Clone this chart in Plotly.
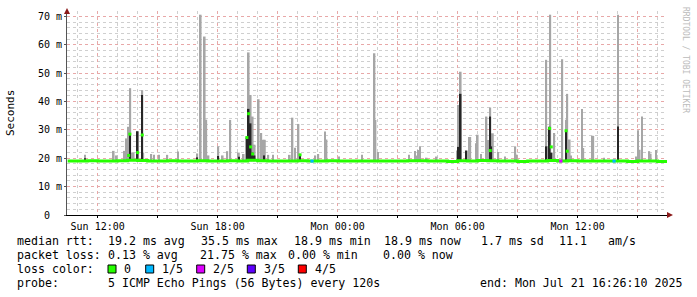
import plotly.graph_objects as go

# ---------------- data (time = hours since Sun 00:00) ----------------
x_range = [10.467, 40.467]

tick_hours = [12, 15, 18, 21, 24, 27, 30, 33, 36, 39]
tick_labels = ["Sun 12:00", "", "Sun 18:00", "", "Mon 00:00", "",
               "Mon 06:00", "", "Mon 12:00", ""]

y_ticks = [0, 10, 20, 30, 40, 50, 60, 70]
y_labels = ["0\u00a0\u00a0", "10 m", "20 m", "30 m", "40 m", "50 m", "60 m", "70 m"]

# outer smoke (max of the 5 pings), ms
spike_hour = [11.37, 12.80, 12.95, 13.36, 13.44, 13.53, 13.63, 13.72, 13.80, 14.00,
              14.23, 14.28, 14.68, 14.82, 15.07, 15.48, 16.02, 16.98, 17.15, 17.35,
              17.43, 17.54, 18.03, 18.25, 18.48, 18.63, 19.06, 19.30, 19.46, 19.55,
              19.65, 19.75, 19.85, 20.05, 20.18, 20.30, 20.36, 20.53, 20.77, 21.60,
              21.74, 21.87, 22.04, 22.12, 22.88, 23.03, 23.37, 23.44, 24.07, 25.22,
              25.84, 25.89, 26.02, 27.57, 27.87, 27.97, 28.04, 28.12, 28.45, 28.95,
              29.97, 30.03, 30.15, 30.44, 30.58, 30.63, 30.94, 31.00, 31.17, 31.44,
              31.52, 31.63, 31.76, 32.03, 32.37, 32.88, 32.95, 34.43, 34.48, 34.63,
              34.83, 35.23, 35.42, 35.48, 35.60, 35.67, 36.22, 36.28, 36.73, 36.78,
              37.32, 38.02, 38.92, 39.02, 39.10, 39.22, 39.58, 39.65, 39.92]
spike_max = [21.2, 22.6, 21.0, 22.6, 27.0, 31.1, 44.7, 22.0, 22.0, 29.5,
             44.0, 22.0, 21.5, 21.2, 21.2, 21.2, 22.4, 21.7, 70.6, 62.9,
             33.6, 21.0, 24.2, 21.0, 22.5, 33.5, 22.0, 21.5, 27.3, 57.3,
             42.3, 34.7, 24.8, 40.8, 28.9, 26.5, 26.5, 21.2, 21.2, 21.2,
             34.3, 23.7, 32.1, 21.2, 21.0, 21.5, 29.4, 26.6, 20.6, 21.2,
             57.0, 33.5, 22.2, 21.2, 22.6, 21.0, 22.9, 24.2, 20.2, 20.6,
             22.7, 38.8, 50.5, 22.7, 27.5, 27.5, 25.3, 28.3, 21.5, 34.7,
             26.4, 37.9, 28.8, 22.2, 20.6, 24.2, 21.3, 54.7, 24.2, 70.6,
             28.9, 54.9, 33.6, 42.7, 26.6, 21.0, 37.4, 23.6, 27.9, 27.9,
             20.2, 70.6, 20.6, 29.9, 23.0, 34.7, 22.5, 21.6, 22.9]

# inner (dark) smoke
dark_hour = [11.37, 13.61, 14.00, 14.23, 16.98, 18.03, 19.06, 19.46, 19.55, 19.65,
             19.75, 19.85, 20.33, 22.12, 30.03, 30.15, 30.44, 31.63, 31.68, 34.43,
             34.60, 34.70, 35.42, 38.02]
dark_top = [20.0, 28.8, 29.5, 42.3, 20.3, 20.8, 20.5, 27.3, 37.4, 32.3,
            22.0, 21.0, 21.0, 21.2, 24.0, 42.7, 22.7, 34.7, 24.2, 24.2,
            31.1, 22.0, 29.7, 31.2]

# elevated medians
med_hour = [13.55, 13.61, 14.00, 14.23, 19.46, 19.55, 19.65, 19.75, 22.12,
            31.63, 34.60, 34.68, 35.42, 35.48]
med_val = [21.0, 28.5, 22.0, 28.2, 27.3, 35.7, 24.0, 21.5, 21.2,
           22.7, 30.5, 24.0, 29.7, 22.5]

# median baseline
base_hour = [10.5, 11.0, 11.5, 12.0, 12.5, 13.0, 13.5, 14.0, 14.5, 15.0,
             15.5, 16.0, 16.5, 17.0, 17.5, 18.0, 18.5, 19.0, 19.5, 20.0,
             20.5, 21.0, 21.5, 22.0, 22.5, 23.0, 23.5, 24.0, 24.5, 25.0,
             25.5, 26.0, 26.5, 27.0, 27.5, 28.0, 28.5, 29.0, 29.5, 30.0,
             30.5, 31.0, 31.5, 32.0, 32.5, 33.0, 33.5, 34.0, 34.5, 35.0,
             35.5, 36.0, 36.5, 37.0, 37.5, 38.0, 38.5, 39.0, 39.5, 40.0, 40.5]
base_median = [19.0, 19.0, 19.1, 19.0, 19.0, 19.1, 19.3, 19.2, 19.0, 19.0,
               19.1, 19.0, 19.0, 19.1, 19.0, 19.0, 19.1, 19.0, 19.3, 19.1,
               19.0, 19.0, 19.0, 19.1, 19.0, 19.0, 19.1, 19.0, 19.0, 19.0,
               19.0, 19.0, 19.0, 19.0, 19.1, 19.1, 19.0, 19.0, 18.9, 19.1,
               19.0, 19.2, 19.1, 19.0, 19.0, 18.9, 19.0, 19.0, 19.2, 19.0,
               19.1, 19.0, 19.0, 19.0, 19.0, 19.0, 18.9, 19.0, 19.0, 18.9, 18.9]

# packet-loss events (number of lost pings out of 5)
loss_hour = [22.72, 35.16, 37.82]
loss_count = [1, 2, 1]

loss_names = ["0", "1/5", "2/5", "3/5", "4/5"]
loss_colors = ["#26ff00", "#00b8ff", "#dd00ff", "#5e00ff", "#ff0000"]

stats_line1 = ["median rtt:", "19.2 ms avg", "35.5 ms max", "18.9 ms min",
               "18.9 ms now", "1.7 ms sd", "11.1", "am/s"]
stats_line2 = ["packet loss:", "0.13 % avg", "21.75 % max", "0.00 % min", "0.00 % now"]
probe_text = "5 ICMP Echo Pings (56 Bytes) every 120s"
end_text = "end: Mon Jul 21 16:26:10 2025"

# ---------------- figure ----------------
W, H = 697, 297
L, R, T, B = 67, 30, 11, 82
PW, PH = W - L - R, H - T - B
BASE = 19.0


def px(x):
    return (x - L) / PW


def py(y):
    return (H - B - y) / PH


fig = go.Figure()

fig.add_trace(go.Bar(x=spike_hour, y=[m - BASE for m in spike_max], base=BASE,
                     width=0.09, marker=dict(color="#a6a6a6", line=dict(width=0)),
                     hoverinfo="skip"))
fig.add_trace(go.Bar(x=dark_hour, y=[m - BASE for m in dark_top], base=BASE,
                     width=0.08, marker=dict(color="#262626", line=dict(width=0)),
                     hoverinfo="skip"))
fig.add_trace(go.Scatter(x=base_hour, y=base_median, mode="lines",
                         line=dict(color=loss_colors[0], width=3, shape="hv"),
                         hoverinfo="skip"))
for h, c in zip(loss_hour, loss_count):
    fig.add_trace(go.Scatter(x=[h - 0.08, h + 0.08], y=[BASE, BASE], mode="lines",
                             line=dict(color=loss_colors[c], width=3),
                             hoverinfo="skip"))
fig.add_trace(go.Scatter(x=med_hour, y=med_val, mode="markers",
                         marker=dict(symbol="square", size=3, color=loss_colors[0],
                                     line=dict(width=0)),
                         hoverinfo="skip"))

mono = "DejaVu Sans Mono"
fig.update_layout(
    width=W, height=H, margin=dict(l=L, r=R, t=T, b=B),
    paper_bgcolor="white", plot_bgcolor="white",
    showlegend=False, barmode="overlay",
    font=dict(family=mono, size=10, color="black"),
    xaxis=dict(range=x_range, tickmode="array", tickvals=tick_hours, ticktext=tick_labels,
               showgrid=True, gridcolor="#e8a8a8", griddash="dot", gridwidth=1,
               minor=dict(dtick=1, tick0=0, showgrid=True, gridcolor="#cfcfcf",
                          griddash="dot", gridwidth=1),
               ticks="outside", ticklen=2, tickcolor="black",
               showline=True, linecolor="black", linewidth=1, zeroline=False,
               tickfont=dict(family=mono, size=10, color="black")),
    yaxis=dict(range=[0, 71.9], tickmode="array", tickvals=y_ticks, ticktext=y_labels,
               showgrid=True, gridcolor="#e8a8a8", griddash="dot", gridwidth=1,
               minor=dict(dtick=2, tick0=0, showgrid=True, gridcolor="#cfcfcf",
                          griddash="dot", gridwidth=1),
               ticks="outside", ticklen=2, tickcolor="#555",
               showline=True, linecolor="#555", linewidth=1, zeroline=False,
               tickfont=dict(family=mono, size=10, color="black")),
)

# axis arrows
arrow = "#8b1a1a"
fig.add_shape(type="path", xref="paper", yref="paper",
              path=f"M {px(67)},{py(8)} L {px(64)},{py(14)} L {px(70)},{py(14)} Z",
              fillcolor=arrow, line=dict(width=0))
fig.add_shape(type="path", xref="paper", yref="paper",
              path=f"M {px(673)},{py(215)} L {px(667)},{py(212)} L {px(667)},{py(218)} Z",
              fillcolor=arrow, line=dict(width=0))

ann = []
ann.append(dict(text="Seconds", x=px(10), y=py(113), xref="paper", yref="paper",
                xanchor="center", yanchor="middle",
                textangle=-90, showarrow=False, font=dict(family=mono, size=11, color="black")))
ann.append(dict(text="RRDTOOL / TOBI OETIKER", x=px(686), y=py(60), xref="paper", yref="paper",
                xanchor="center", yanchor="middle",
                textangle=90, showarrow=False, font=dict(family=mono, size=8, color="#bbbbbb")))

LF = dict(family=mono, size=11.6, color="black")


def add_text(t, x, y):
    ann.append(dict(text=t.replace(" ", "\u00a0"), x=px(x - 1), y=py(y), xref="paper",
                    yref="paper", xanchor="left", yanchor="middle", showarrow=False,
                    font=LF))


for t, x in zip(stats_line1, [16, 107.3, 200, 293.3, 382.7, 480, 558.3, 606.7]):
    add_text(t, x, 241.3)
for t, x in zip(stats_line2, [16, 107.3, 199.3, 287.3, 381.7]):
    add_text(t, x, 255.3)
add_text("loss color:", 16, 269)
sq_x = [108, 145.7, 196.7, 247.3, 298.3]
for name, col, x in zip(loss_names, loss_colors, sq_x):
    fig.add_shape(type="rect", xref="paper", yref="paper",
                  x0=px(x), x1=px(x + 8), y0=py(273), y1=py(265),
                  fillcolor=col, line=dict(color="black", width=1))
    add_text(name, x + 15.3, 269)
add_text("probe:", 16, 282.7)
add_text(probe_text, 107.3, 282.7)
add_text(end_text, 479.3, 282.7)

fig.update_layout(annotations=ann)
fig.write_html("out.html")
